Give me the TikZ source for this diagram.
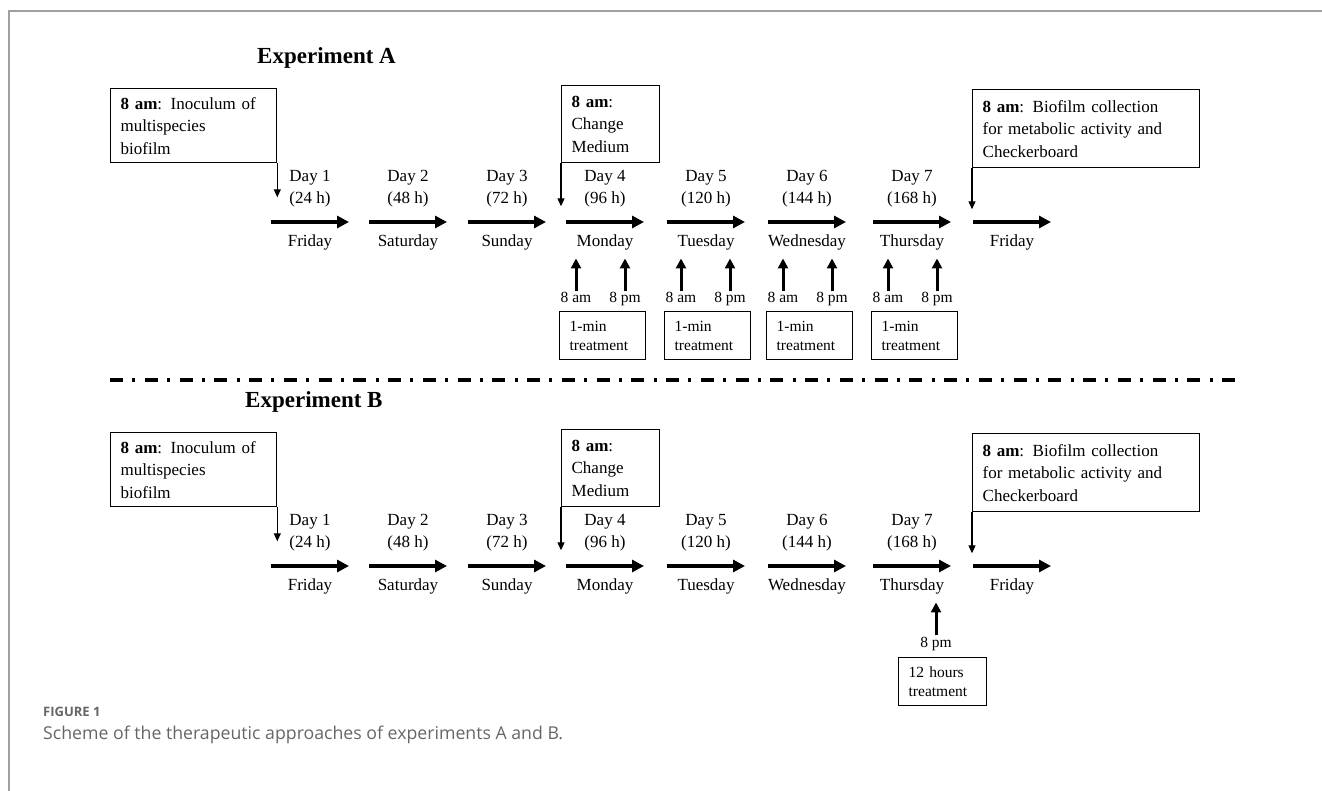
\documentclass[tikz,border=0pt]{standalone}
\usepackage{fontspec}
\setmainfont{Liberation Serif}
\newfontfamily\capfont{Open Sans}
\usetikzlibrary{arrows.meta}
\definecolor{framegray}{HTML}{A0A0A0}
\definecolor{capgray}{HTML}{666666}
\tikzset{
  txt/.style={font=\fontsize{17}{22}\selectfont, align=center, inner sep=1pt},
  small/.style={font=\fontsize{15.5}{19}\selectfont, inner sep=1pt, anchor=base},
  notebox/.style={draw, line width=1.3pt, anchor=north west, align=left, inner xsep=10pt, inner ysep=0pt, font=\fontsize{17}{22.5}\selectfont},
  tbox/.style={draw, line width=1.3pt, anchor=north west, align=left, inner xsep=10pt, inner ysep=0pt, text width=66pt, minimum height=48pt, font=\fontsize{15.5}{19}\selectfont},
  title/.style={font=\fontsize{23}{26}\selectfont\bfseries, anchor=west, inner sep=0pt},
  dayarrow/.style={line width=3.5pt, -{Triangle[length=12pt,width=12pt]}},
  markarrow/.style={line width=3pt, -{Triangle[length=10pt,width=10pt]}},
  droparrow/.style={line width=1.2pt, -{Triangle[length=8pt,width=7pt]}}
}
\begin{document}
\begin{tikzpicture}[x=1pt,y=-1pt]
    \useasboundingbox (0,0) rectangle (1322,791);
    \draw[framegray, line width=1.5pt] (1322,11) -- (9,11) -- (9,791);
    \node[title] (expA) at (257,58) {Experiment A};
    \node[title] (expB) at (245,402) {Experiment B};
    \draw[line width=4pt, dash pattern=on 13pt off 9.4pt on 3pt off 9.35pt] (110,380) -- (1235,380);
    \foreach \e/\dy in {A/0,B/344}{
        \foreach \i/\x/\dname in {1/271/Friday,2/369/Saturday,3/468/Sunday,4/566/Monday,5/667/Tuesday,6/768/Wednesday,7/873/Thursday,8/973/Friday}{
            \coordinate (d\e\i) at (\x,222+\dy);
            \draw[dayarrow] (d\e\i) -- ++(78,0);
            \node[txt] (n\e\i) at (\x+39,242+\dy) {\dname};
        }
        \foreach \i/\x/\h in {1/271/24,2/369/48,3/468/72,4/566/96,5/667/120,6/768/144,7/873/168}
            \node[txt] (h\e\i) at (\x+39,189+\dy) {Day \i\\(\h~h)};
        \node[notebox, text width=146pt, minimum height=74pt] (inoc\e) at (110,88+\dy) {\textbf{8 am}: Inoculum of\\multispecies\\biofilm};
        \node[notebox, text width=78pt, minimum height=77pt] (medium\e) at (561,85+\dy) {\textbf{8 am}:\\Change\\Medium};
        \node[notebox, text width=207pt, minimum height=78pt] (collect\e) at (972,89+\dy) {\textbf{8 am}: Biofilm collection\\for metabolic activity and\\Checkerboard};
        \draw[droparrow] (inoc\e.south east) -- ++(0,34);
        \draw[droparrow] (medium\e.south west) -- ++(0,43);
        \draw[droparrow] (collect\e.south west) -- ++(0,41);
    }
    \foreach \i/\x in {4/559,5/664,6/766,7/871}{
        \node[small] (amA\i) at (\x+17,303) {8 am};
        \node[small] (pmA\i) at (\x+66,303) {8 pm};
        \draw[markarrow] (amA\i.north) -- ++(0,-33);
        \draw[markarrow] (pmA\i.north) -- ++(0,-33);
        \node[tbox] (trA\i) at (\x,311) {1-min\\treatment};
    }
    \node[small] (pmB7) at (936,647) {8 pm};
    \draw[markarrow] (pmB7.north) -- ++(0,-33);
    \node[tbox, text width=68pt] (trB7) at (898,657) {12 hours\\treatment};
    \node[anchor=west, inner sep=0pt, text=capgray, font=\capfont\bfseries\fontsize{13}{15}\selectfont] (figlbl) at (43,712) {FIGURE 1};
    \node[anchor=west, inner sep=0pt, text=capgray, font=\capfont\fontsize{17.7}{20}\selectfont] (figcap) at (43,735) {Scheme of the therapeutic approaches of experiments A and B.};
\end{tikzpicture}
\end{document}
